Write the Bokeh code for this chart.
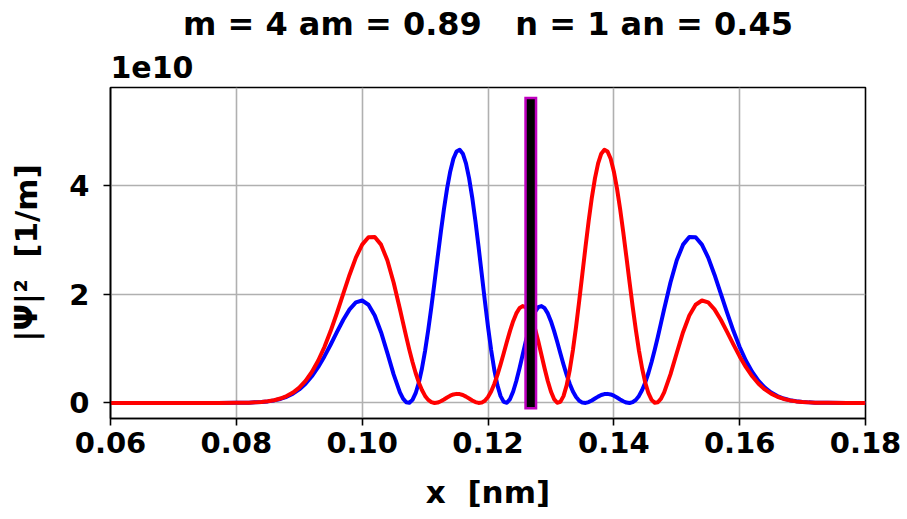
from bokeh.plotting import figure
from bokeh.models import Range1d, FixedTicker, NumeralTickFormatter, Title
from bokeh.embed import file_html
from bokeh.resources import INLINE

# Position along the well, nm
x_nm = [
    0.060, 0.070, 0.077, 0.080, 0.081,
    0.082, 0.083, 0.084, 0.085, 0.086, 0.087, 0.088, 0.089, 0.090, 0.091,
    0.092, 0.093, 0.094, 0.095, 0.096, 0.097, 0.098, 0.099, 0.100, 0.101,
    0.102, 0.103, 0.104, 0.105, 0.106,
    0.1065, 0.1070, 0.1075, 0.1080, 0.1085, 0.1090, 0.1095, 0.1100,
    0.1105, 0.1110, 0.1115, 0.1120, 0.1125, 0.1130, 0.1135, 0.1140,
    0.1145, 0.1150, 0.1155, 0.1160, 0.1165, 0.1170, 0.1175, 0.1180,
    0.1185, 0.1190, 0.1195, 0.1200, 0.1205, 0.1210, 0.1215, 0.1220,
    0.1225, 0.1230, 0.1235, 0.1240, 0.1245, 0.1250, 0.1255, 0.1260,
    0.1265, 0.1270, 0.1275, 0.1280, 0.1285, 0.1290, 0.1295, 0.1300,
    0.1305, 0.1310, 0.1315, 0.1320, 0.1325, 0.1330, 0.1335, 0.1340,
    0.1345, 0.1350, 0.1355, 0.1360, 0.1365, 0.1370, 0.1375, 0.1380,
    0.1385, 0.1390, 0.1395, 0.1400, 0.1405, 0.1410, 0.1415, 0.1420,
    0.1425, 0.1430, 0.1435, 0.1440, 0.1445, 0.1450, 0.1455, 0.1460,
    0.1465, 0.1470, 0.1475,
    0.148, 0.149, 0.150, 0.151, 0.152, 0.153, 0.154, 0.155, 0.156, 0.157,
    0.158, 0.159, 0.160, 0.161, 0.162, 0.163, 0.164, 0.165, 0.166, 0.167,
    0.168, 0.169, 0.170, 0.171, 0.172,
    0.173, 0.174, 0.177, 0.180,
]

# |psi|^2 in units of 1e10 1/m, state at t = 0
psi2_blue = [
    0.0, 0.0, 0.0003, 0.002, 0.0035,
    0.006, 0.011, 0.018, 0.029, 0.047, 0.074, 0.114, 0.171, 0.249, 0.354,
    0.490, 0.657, 0.854, 1.074, 1.305, 1.528, 1.718, 1.846, 1.880, 1.803,
    1.606, 1.299, 0.918, 0.524, 0.194,
    0.080, 0.014, 0.003, 0.057, 0.179, 0.371, 0.633, 0.957,
    1.338, 1.762, 2.214, 2.677, 3.132, 3.559, 3.938, 4.250,
    4.481, 4.616, 4.648, 4.575, 4.397, 4.123, 3.765, 3.339,
    2.867, 2.370, 1.874, 1.401, 0.973, 0.610, 0.324, 0.126,
    0.020, 0.004, 0.071, 0.210, 0.403, 0.634, 0.881, 1.127,
    1.351, 1.539, 1.677, 1.758, 1.779, 1.739, 1.644, 1.502,
    1.324, 1.124, 0.913, 0.707, 0.515, 0.348, 0.211, 0.109,
    0.042, 0.007, 0.001, 0.016, 0.046, 0.082, 0.117, 0.146,
    0.163, 0.167, 0.156, 0.133, 0.101, 0.065, 0.032, 0.008,
    0.000, 0.015, 0.057, 0.130, 0.237, 0.377, 0.550, 0.751,
    0.975, 1.217, 1.470,
    1.724, 2.210, 2.618, 2.906, 3.048, 3.043, 2.907, 2.668, 2.354, 2.007,
    1.656, 1.324, 1.027, 0.775, 0.568, 0.405, 0.281, 0.191, 0.126, 0.081,
    0.051, 0.032, 0.019, 0.011, 0.006,
    0.0035, 0.002, 0.0003, 0.0,
]

# |psi|^2 in units of 1e10 1/m, state after half a beat period
psi2_red = [
    0.0, 0.0, 0.0003, 0.002, 0.0035,
    0.006, 0.011, 0.019, 0.032, 0.051, 0.081, 0.126, 0.191, 0.281, 0.405,
    0.568, 0.775, 1.027, 1.324, 1.656, 2.007, 2.354, 2.668, 2.907, 3.043,
    3.048, 2.906, 2.618, 2.210, 1.724,
    1.470, 1.217, 0.975, 0.751, 0.550, 0.377, 0.237, 0.130,
    0.057, 0.015, 0.000, 0.008, 0.032, 0.065, 0.101, 0.133,
    0.156, 0.167, 0.163, 0.146, 0.117, 0.082, 0.046, 0.016,
    0.001, 0.007, 0.042, 0.109, 0.211, 0.348, 0.515, 0.707,
    0.913, 1.124, 1.324, 1.502, 1.644, 1.739, 1.779, 1.758,
    1.677, 1.539, 1.351, 1.127, 0.881, 0.634, 0.403, 0.210,
    0.071, 0.004, 0.020, 0.126, 0.324, 0.610, 0.973, 1.401,
    1.874, 2.370, 2.867, 3.339, 3.765, 4.123, 4.397, 4.575,
    4.648, 4.616, 4.481, 4.250, 3.938, 3.559, 3.132, 2.677,
    2.214, 1.762, 1.338, 0.957, 0.633, 0.371, 0.179, 0.057,
    0.003, 0.014, 0.080,
    0.194, 0.524, 0.918, 1.299, 1.606, 1.803, 1.880, 1.846, 1.718, 1.528,
    1.305, 1.074, 0.854, 0.657, 0.490, 0.354, 0.249, 0.171, 0.114, 0.074,
    0.047, 0.029, 0.018, 0.011, 0.006,
    0.0035, 0.002, 0.0003, 0.0,
]

# Well centre marker (x in nm, vertical extent in 1e10 1/m)
center_x = 0.1268
marker_y = [0.0, 5.5]

x_ticks = [0.06, 0.08, 0.10, 0.12, 0.14, 0.16, 0.18]
y_ticks = [0, 2, 4]

FONT = "DejaVu Sans"
NB = "\u00a0"

p = figure(
    width=907, height=519,
    x_range=Range1d(0.06, 0.18), y_range=Range1d(-0.285, 5.79),
    output_backend="svg", toolbar_location=None,
    min_border_left=110, min_border_right=42,
    min_border_top=87, min_border_bottom=101,
    title=None,
)
p.background_fill_color = "white"
p.border_fill_color = "white"
p.outline_line_color = "black"
p.outline_line_width = 1.6

# scale factor just above the frame, then the main heading above it
p.add_layout(Title(text="1e10", align="left", standoff=16,
                   vertical_align="top", text_font=FONT,
                   text_font_style="bold", text_font_size="30px",
                   text_color="black"), "above")
p.add_layout(Title(text=f"m = 4 am = 0.89{NB}{NB} n = 1 an = 0.45",
                   align="center", standoff=6, vertical_align="top",
                   text_font=FONT, text_font_style="bold",
                   text_font_size="32px", text_color="black"), "above")

# grid
for g in (p.xgrid, p.ygrid):
    g.grid_line_color = "#b0b0b0"
    g.grid_line_width = 1.6
p.xgrid.ticker = FixedTicker(ticks=x_ticks)
p.ygrid.ticker = FixedTicker(ticks=y_ticks)

# axes
p.xaxis.ticker = FixedTicker(ticks=x_ticks)
p.yaxis.ticker = FixedTicker(ticks=y_ticks)
p.xaxis.formatter = NumeralTickFormatter(format="0.00")
p.yaxis.formatter = NumeralTickFormatter(format="0")
p.axis.minor_tick_line_color = None
p.axis.major_tick_in = 0
p.axis.major_tick_out = 7
p.axis.major_tick_line_width = 1.6
p.axis.axis_line_width = 1.6
p.axis.major_label_text_font = FONT
p.axis.major_label_text_font_style = "bold"
p.axis.major_label_text_font_size = "29px"
p.axis.major_label_text_color = "black"
p.xaxis.major_label_standoff = 6
p.yaxis.major_label_standoff = 14

p.xaxis.axis_label = f"x{NB} [nm]"
p.yaxis.axis_label = f"|\u03a8|\u00b2{NB} [1/m]"
p.axis.axis_label_text_font = FONT
p.axis.axis_label_text_font_style = "bold"
p.axis.axis_label_text_font_size = "31px"
p.axis.axis_label_text_color = "black"
p.xaxis.axis_label_standoff = 18
p.yaxis.axis_label_standoff = 22

# curves
p.line(x_nm, psi2_blue, line_color="#0000ff", line_width=4, line_join="round")
p.line(x_nm, psi2_red, line_color="#ff0000", line_width=4, line_join="round")

# centre marker: magenta band with black core
p.segment(x0=[center_x], y0=[marker_y[0]], x1=[center_x], y1=[marker_y[1]],
          line_color="#bf00bf", line_width=13, line_cap="square")
p.segment(x0=[center_x], y0=[marker_y[0]], x1=[center_x], y1=[marker_y[1]],
          line_color="black", line_width=8, line_cap="square")

open("out.html", "w").write(file_html(p, INLINE))
